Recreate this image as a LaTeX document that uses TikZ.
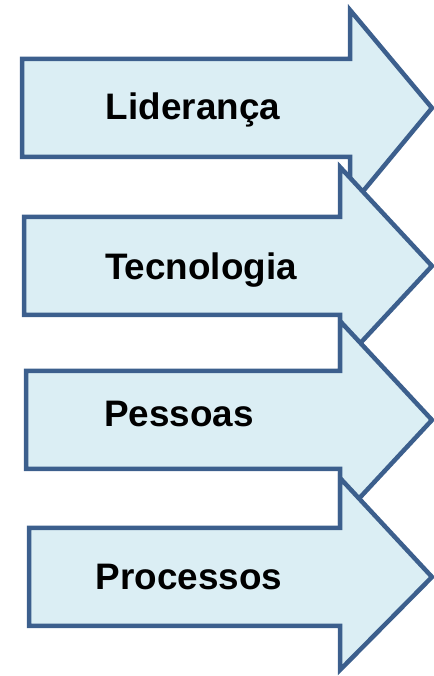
\documentclass[tikz,border=0pt]{standalone}
\usepackage{fontspec}
\setmainfont{Liberation Sans}
\usepackage[x11names, rgb]{xcolor}
\usepackage{tikz}
\usetikzlibrary{calc,positioning}
\definecolor{setafill}{HTML}{DBEEF4}
\definecolor{setaline}{HTML}{3C5F8D}
\newcommand{\seta}[5]{\draw [setaborda] (#1bp,#3bp+49bp) -- (#2bp,#3bp+49bp) -- (#2bp,#3bp+#4bp) -- (432bp,#3bp) -- (#2bp,#3bp-#5bp) -- (#2bp,#3bp-49bp) -- (#1bp,#3bp-49bp) -- cycle;}

\begin{document}
\begin{tikzpicture}[setaborda/.style={draw=setaline,fill=setafill,line width=4.5bp},rotulo/.style={anchor=base,font=\fontsize{37}{40}\selectfont\bfseries}]
	\useasboundingbox (0bp,0bp) rectangle (434bp,676bp);
	\seta{22}{350}{568}{98}{99}
	\seta{24}{340}{410}{99}{99}
	\seta{26}{340}{256}{99}{99}
	\seta{29}{340}{99}{99}{93}

	\node (lid)  at (193bp,556bp) [rotulo] {Liderança};
	\node (tec)  at (201bp,396bp) [rotulo] {Tecnologia};
	\node (pes)  at (179bp,249bp) [rotulo] {Pessoas};
	\node (proc) at (189bp,86bp)  [rotulo] {Processos};
\end{tikzpicture}
\end{document}
